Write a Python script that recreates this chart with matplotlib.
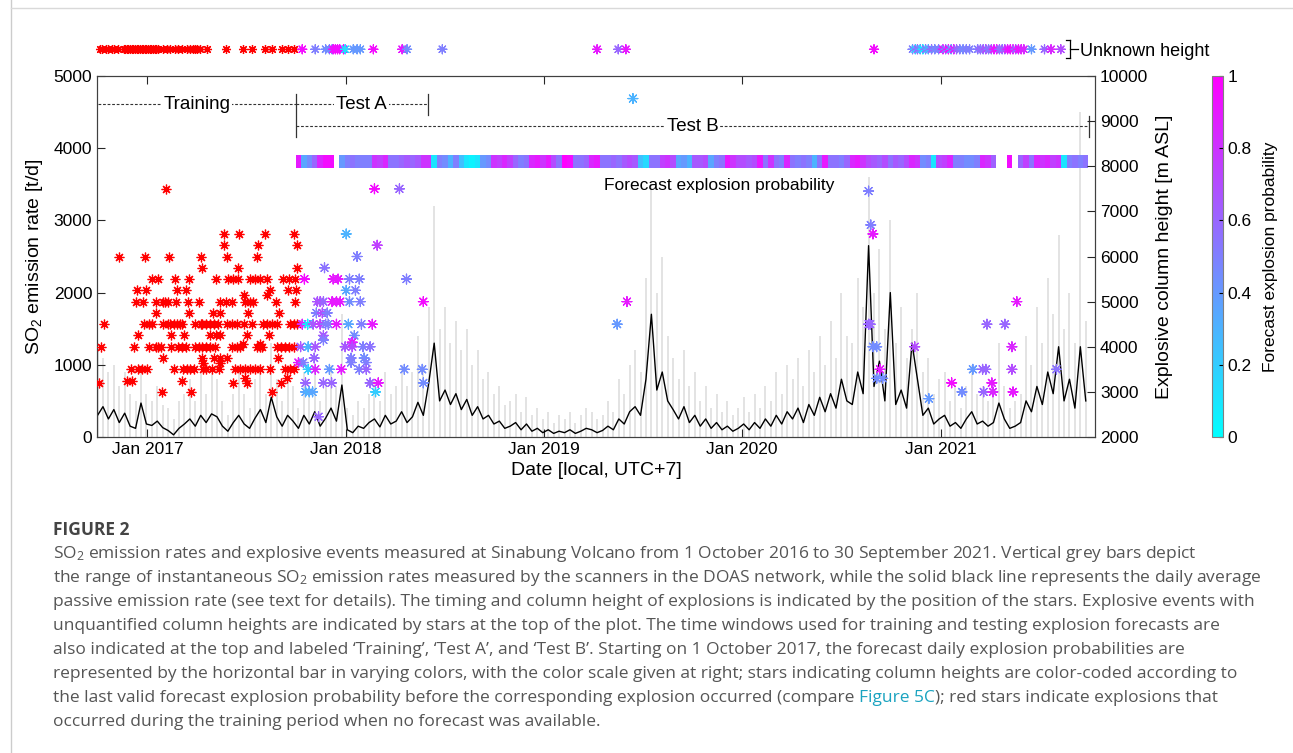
import numpy as np
import matplotlib
matplotlib.use('Agg')
import matplotlib.pyplot as plt
import matplotlib.dates as mdates
from matplotlib.lines import Line2D

plt.rcParams['font.family'] = ['Liberation Sans', 'DejaVu Sans']
plt.rcParams['mathtext.default'] = 'regular'

start = np.datetime64('2016-10-01')

# daily average passive SO2 emission (t/d), read every 10 days from 1 Oct 2016
so2_mean = [300, 420, 250, 380, 200, 330, 150, 120, 470, 180,
            160, 220, 130, 90, 30, 120, 180, 250, 150, 300,
            200, 320, 280, 150, 80, 200, 300, 180, 120, 260,
            380, 200, 550, 280, 150, 300, 220, 120, 300, 180,
            350, 150, 260, 400, 220, 720, 100, 60, 150, 120,
            200, 250, 140, 300, 180, 220, 350, 200, 280, 480,
            300, 750, 1300, 500, 650, 450, 600, 380, 520, 300,
            420, 250, 300, 180, 220, 120, 150, 200, 100, 180,
            80, 120, 60, 100, 50, 80, 60, 100, 50, 80,
            120, 100, 60, 90, 150, 100, 250, 180, 350, 420,
            300, 800, 1700, 650, 900, 500, 380, 250, 420, 200,
            300, 150, 250, 120, 200, 100, 150, 80, 120, 180,
            100, 200, 120, 250, 150, 300, 180, 350, 250, 400,
            200, 450, 300, 550, 350, 600, 400, 800, 500, 450,
            900, 600, 2650, 700, 1050, 500, 2000, 450, 650, 400,
            1300, 800, 300, 400, 180, 250, 300, 150, 200, 120,
            250, 350, 180, 220, 150, 200, 470, 250, 120, 150,
            200, 500, 350, 700, 450, 900, 600, 1250, 500, 800,
            400, 1250, 500]

# upper end of instantaneous SO2 emission rates (t/d), same 10-day steps
so2_max = [1250, 1100, 900, 1000, 700, 900, 600, 500, 1000, 600,
           500, 700, 450, 400, 250, 500, 600, 800, 500, 900,
           600, 900, 800, 500, 300, 600, 900, 600, 400, 800,
           1000, 600, 1300, 800, 500, 900, 700, 400, 900, 600,
           1000, 500, 800, 1000, 700, 1700, 400, 300, 500, 400,
           600, 800, 500, 900, 600, 700, 1000, 700, 900, 1400,
           1000, 1800, 3200, 1500, 1800, 1300, 1600, 1200, 1500, 1000,
           1200, 800, 900, 600, 700, 450, 500, 600, 350, 550,
           300, 400, 250, 350, 200, 300, 250, 350, 200, 300,
           400, 350, 250, 300, 500, 350, 800, 600, 1000, 1200,
           900, 2200, 3500, 2000, 2500, 1400, 1100, 800, 1200, 700,
           900, 500, 700, 400, 600, 350, 500, 300, 400, 550,
           350, 600, 400, 700, 500, 900, 600, 1000, 800, 1100,
           700, 1200, 900, 1400, 1000, 1600, 1100, 2000, 1400, 1300,
           2200, 1800, 3600, 2000, 2600, 1500, 3000, 1300, 1800, 1100,
           1500, 2000, 900, 1100, 600, 800, 900, 500, 700, 400,
           700, 1000, 600, 700, 500, 600, 1300, 700, 400, 500,
           600, 1400, 1000, 1800, 1300, 2200, 1700, 2800, 1500, 2000,
           1300, 4500, 1600]

# forecast explosion probability, 10-day steps from 1 Oct 2017 (nan = no forecast)
forecast_prob = [0.9, 0.35, 0.45, 0.6, 0.85, 0.95, 0.95, np.nan, 0.4, 0.5,
                 0.55, 0.5, 0.5, 0.5, 0.8, 0.75, 0.85, 0.55, 0.55, 0.6,
                 0.65, 0.6, 0.65, 0.8, 0.8, 0.1, 0.5, 0.45, 0.3, 0.5,
                 0.25, 0.1, 0.05, 0.1, 0.4, 0.45, 0.8, 0.75, 0.85, 0.75,
                 0.6, 0.5, 0.55, 0.85, 0.9, 0.8, 0.9, 0.7, 0.55, 1.0,
                 0.95, 0.55, 0.55, 0.6, 0.85, 0.9, 0.55, 0.55, 0.6, 0.55,
                 0.65, 0.7, 0.65, 0.25, 0.15, 0.55, 0.55, 0.75, 0.8, 0.7,
                 0.35, 0.4, 0.3, 0.65, 0.65, 0.7, 0.35, 0.5, 0.55, 0.9,
                 0.8, 0.7, 0.7, 0.65, 0.7, 0.9, 0.55, 0.8, 0.55, 0.5,
                 0.85, 0.55, 0.5, 0.55, 0.5, 0.3, 0.55, 0.9, 0.55, 0.55,
                 0.5, 0.6, 0.85, 0.9, 0.8, 0.7, 0.65, 0.6, 0.7, 0.55,
                 0.65, 0.6, 0.7, 0.85, 0.8, 0.45, 0.5, 0.1, 0.7, 0.75,
                 0.85, 0.5, 0.5, 0.45, 0.45, 0.5, 0.85, 0.8, 0.62, np.nan,
                 np.nan, 0.95, np.nan, 0.6, 0.75, 0.55, 0.85, 0.8, 0.85, 0.75,
                 0.8, 0.1, 0.5, 0.55, 0.5, 0.55]

# explosions during training (day since 1 Oct 2016, column height m ASL)
red_stars = [(126, 7500), (40, 6000), (87, 6000), (131, 6000), (191, 6000), (193, 5750),
             (101, 5500), (112, 5500), (142, 5500), (169, 5500),
             (72, 5250), (90, 5250), (147, 5250), (162, 5250),
             (70, 5000), (83, 5000), (107, 5000), (120, 5000), (124, 5000), (129, 5000),
             (144, 5000), (167, 5000), (186, 5000), (107, 4750), (169, 4750),
             (11, 4500), (85, 4500), (94, 4500), (101, 4500), (120, 4500), (129, 4500),
             (134, 4500), (140, 4500), (147, 4500), (152, 4500), (156, 4500), (180, 4500),
             (193, 4500), (75, 4250), (136, 4250), (160, 4250),
             (6, 4000), (68, 4000), (94, 4000), (107, 4000), (112, 4000), (116, 4000),
             (136, 4000), (149, 4000), (156, 4000), (162, 4000), (180, 4000), (186, 4000),
             (193, 4000), (120, 3750), (193, 3750),
             (61, 3500), (75, 3500), (81, 3500), (92, 3500), (140, 3500), (158, 3500),
             (164, 3500), (171, 3500), (177, 3500), (195, 3500),
             (55, 3250), (63, 3250), (156, 3250), (2, 3200), (118, 3000), (173, 3000),
             (232, 6500), (261, 6500), (309, 6500), (362, 6500),
             (232, 6250), (239, 6000), (296, 6250), (294, 6000), (368, 6250),
             (259, 5750), (368, 5750),
             (219, 5500), (241, 5500), (250, 5500), (259, 5500), (281, 5500), (290, 5500),
             (300, 5500), (313, 5500), (342, 5500), (353, 5500), (364, 5500),
             (318, 5250), (350, 5250), (366, 5250), (269, 5150), (313, 5150),
             (226, 5000), (237, 5000), (248, 5000), (272, 5000), (280, 5000), (287, 5000),
             (329, 5000), (364, 5000),
             (212, 4750), (226, 4750), (278, 4750), (335, 4750),
             (190, 4500), (199, 4500), (207, 4500), (214, 4500), (221, 4500), (239, 4500),
             (248, 4500), (256, 4500), (269, 4500), (285, 4500), (305, 4500), (313, 4500),
             (322, 4500), (331, 4500), (355, 4500), (362, 4500), (368, 4500),
             (208, 4250), (218, 4250), (226, 4250), (276, 4250), (315, 4250),
             (267, 4050), (300, 4050),
             (199, 4000), (208, 4000), (217, 4000), (248, 4000), (256, 4000), (263, 4000),
             (294, 4000), (299, 4000), (303, 4000), (331, 4000), (338, 4000), (346, 4000),
             (353, 4000), (361, 4000),
             (214, 3750), (226, 3750), (239, 3750), (333, 3750), (195, 3650), (226, 3650),
             (199, 3500), (210, 3500), (223, 3500), (254, 3500), (263, 3500), (272, 3500),
             (281, 3500), (290, 3500), (300, 3500), (318, 3500), (346, 3500), (355, 3500),
             (361, 3500), (272, 3300), (348, 3300), (250, 3200), (276, 3200), (337, 3200),
             (322, 3000)]

# explosions after 1 Oct 2017 (day, column height m ASL, last forecast probability)
forecast_stars = [(510, 7500, 0.95), (556, 7500, 0.6),
                  (458, 6500, 0.3), (515, 6250, 0.75), (478, 6000, 0.5), (418, 5750, 0.55),
                  (381, 5500, 0.95), (434, 5500, 0.9), (443, 5500, 0.9), (464, 5500, 0.5),
                  (482, 5500, 0.5), (569, 5500, 0.5), (458, 5250, 0.35), (475, 5250, 0.5),
                  (405, 5000, 0.65), (410, 5000, 0.7), (416, 5000, 0.6), (432, 5000, 0.9),
                  (440, 5000, 0.9), (447, 5000, 0.9), (464, 5000, 0.45), (484, 5000, 0.5),
                  (600, 5000, 0.95), (403, 4750, 0.5), (414, 4750, 0.7), (423, 4750, 0.5),
                  (377, 4500, 0.85), (387, 4500, 0.1), (397, 4500, 0.65), (410, 4500, 0.75),
                  (420, 4500, 0.5), (425, 4500, 0.5), (440, 4500, 0.9), (462, 4500, 0.35),
                  (486, 4500, 0.5), (506, 4500, 0.9), (473, 4250, 0.45), (416, 4250, 0.65),
                  (416, 4150, 0.5), (469, 4100, 0.9),
                  (374, 4000, 0.65), (388, 4000, 0.3), (401, 4000, 0.65), (456, 4000, 0.65),
                  (469, 4000, 0.7), (489, 4000, 0.5), (502, 4000, 0.55),
                  (399, 3750, 0.6), (467, 3750, 0.5), (491, 3750, 0.45),
                  (370, 3650, 0.9), (379, 3650, 0.5), (467, 3650, 0.5), (495, 3650, 0.5),
                  (388, 3500, 0.2), (401, 3500, 0.85), (427, 3500, 0.4), (449, 3500, 0.9),
                  (482, 3500, 0.5), (495, 3500, 0.6), (565, 3500, 0.45), (598, 3500, 0.45),
                  (383, 3200, 0.6), (416, 3200, 0.6), (431, 3200, 0.6), (502, 3200, 0.6),
                  (517, 3200, 0.9), (600, 3200, 0.45),
                  (383, 3000, 0.35), (390, 3000, 0.3), (396, 3000, 0.35), (512, 3000, 0.2),
                  (407, 2450, 0.6),
                  (986, 9500, 0.3), (957, 4500, 0.4), (975, 5000, 0.9),
                  (1420, 7450, 0.5), (1424, 6700, 0.5), (1428, 6500, 0.9), (1420, 4500, 0.6),
                  (1423, 4500, 0.6), (1428, 4000, 0.45), (1435, 4000, 0.45), (1441, 3500, 0.9),
                  (1435, 3300, 0.45), (1446, 3300, 0.45), (1505, 4000, 0.7), (1531, 2850, 0.4),
                  (1573, 3200, 0.95), (1592, 3000, 0.45), (1612, 3500, 0.4), (1630, 3500, 0.6),
                  (1636, 3500, 0.6), (1638, 4500, 0.6), (1632, 3000, 0.6), (1647, 3200, 0.9),
                  (1649, 3000, 0.85), (1671, 4500, 0.6), (1684, 4000, 0.85), (1684, 3500, 0.7),
                  (1686, 3000, 0.9), (1693, 5000, 0.9), (1766, 3500, 0.55)]

# explosions with unknown height: training (red) and with forecast probability
unknown_red_days = [4, 9, 15, 20, 26, 31, 37, 48, 51, 54, 57, 60, 63, 66, 69, 72, 75, 78,
                    81, 84, 87, 90, 93, 96, 99, 102, 105, 107, 112, 120, 127, 134, 142,
                    149, 156, 164, 171, 175, 179, 184, 188, 202, 236, 267, 285, 309, 322,
                    340, 350, 361]
unknown_stars = [(377, 0.95), (401, 0.5), (420, 0.45), (427, 0.45), (432, 0.45),
                 (434, 0.95), (438, 0.95), (442, 0.95), (446, 0.95), (453, 0.95),
                 (456, 0.15), (471, 0.4), (478, 0.4), (484, 0.4), (508, 0.95),
                 (561, 0.9), (570, 0.45), (635, 0.5), (920, 0.9), (959, 0.6), (973, 0.9),
                 (1430, 0.95), (1501, 0.5), (1506, 0.2), (1510, 0.6), (1515, 0.4),
                 (1520, 0.1), (1525, 0.55), (1530, 0.3), (1536, 0.6), (1542, 0.45),
                 (1549, 0.5), (1557, 0.9), (1562, 0.5), (1567, 0.95), (1572, 0.4),
                 (1577, 0.9), (1582, 0.6), (1588, 0.55), (1594, 0.45), (1600, 0.5),
                 (1606, 0.5), (1621, 0.5), (1626, 0.6), (1631, 0.55), (1636, 0.7),
                 (1641, 0.5), (1646, 0.6), (1651, 0.9), (1656, 0.95), (1661, 0.6),
                 (1666, 0.55), (1671, 0.65), (1676, 0.9), (1681, 0.95), (1686, 0.9),
                 (1691, 0.6), (1696, 0.95), (1701, 0.9), (1706, 0.85), (1720, 0.4),
                 (1744, 0.6), (1756, 0.85), (1774, 0.7)]

year_ticks = ['2017-01-01', '2018-01-01', '2019-01-01', '2020-01-01', '2021-01-01']
periods = {'Training': ('2016-10-01', '2017-10-01'),
           'Test A': ('2017-10-01', '2018-06-01'),
           'Test B': ('2017-10-01', '2021-10-01')}

caption_lines = [
    'SO$_2$ emission rates and explosive events measured at Sinabung Volcano from 1 October 2016 to 30 September 2021. Vertical grey bars depict',
    'the range of instantaneous SO$_2$ emission rates measured by the scanners in the DOAS network, while the solid black line represents the daily average',
    'passive emission rate (see text for details). The timing and column height of explosions is indicated by the position of the stars. Explosive events with',
    'unquantified column heights are indicated by stars at the top of the plot. The time windows used for training and testing explosion forecasts are',
    'also indicated at the top and labeled \u2018Training\u2019, \u2018Test A\u2019, and \u2018Test B\u2019. Starting on 1 October 2017, the forecast daily explosion probabilities are',
    'represented by the horizontal bar in varying colors, with the color scale given at right; stars indicating column heights are color-coded according to',
    None,
    'occurred during the training period when no forecast was available.']
link_parts = ['the last valid forecast explosion probability before the corresponding explosion occurred (compare ',
              'Figure 5C', '); red stars indicate explosions that']


def dnum(days):
    return mdates.date2num(start + np.asarray(days).astype('timedelta64[D]'))


def dstr(s):
    return mdates.date2num(np.datetime64(s))


W, H = 1293, 753
fig = plt.figure(figsize=(W / 100, H / 100), dpi=100)


def px(x, y):
    return x / W, 1 - y / H


cmap = plt.get_cmap('cool')
ax = fig.add_axes([97 / W, 1 - 437 / H, 998 / W, 361 / H])
ax2 = ax.twinx()

# grey instantaneous ranges and daily mean
t_mean = dnum(np.arange(len(so2_mean)) * 10)
ax.vlines(t_mean, 0, so2_max, color='0.6', lw=1.3, alpha=0.3, zorder=1)
ax.plot(t_mean, so2_mean, color='black', lw=1.0, zorder=3)

# forecast probability bar
edges = dnum(365 + np.arange(len(forecast_prob) + 1) * 10)
ax.pcolormesh(edges, [3726, 3906], np.ma.masked_invalid([forecast_prob]),
              cmap=cmap, vmin=0, vmax=1, zorder=2)
ax.text(dstr('2019-11-20'), 3490, 'Forecast explosion probability', ha='center', va='center',
        fontsize=12.5, zorder=4)

# training / test windows
dash = (0, (2.5, 1.6))
for name, yv, ticks in [('Training', 4612, []),
                        ('Test A', 4612, [(4750, 4460)]),
                        ('Test B', 4307, [(4450, 4150)])]:
    a, b = dstr(periods[name][0]), dstr(periods[name][1])
    ax.plot([a, b], [yv, yv], ls=dash, color='0.2', lw=0.8, zorder=4)
    ax.text((a + b) / 2, yv, name, ha='center', va='center', fontsize=13.5, zorder=5,
            bbox=dict(facecolor='white', edgecolor='none', pad=1.5))
    for y0, y1 in ticks:
        ax.plot([b, b], [y0, y1], color='0.2', lw=0.9, zorder=5)
ax.plot([dstr('2017-10-01')] * 2, [4750, 4150], color='0.2', lw=0.9, zorder=5)

# stars with known column height
rd, rh = zip(*red_stars)
ax2.plot(dnum(rd), rh, ls='none', marker=(8, 2, 0), ms=7, mew=0.9, color='red', zorder=5)
fd, fh, fp = zip(*forecast_stars)
ax2.scatter(dnum(fd), fh, c=fp, cmap=cmap, vmin=0, vmax=1, marker=(8, 2, 0), s=50,
            linewidths=0.9, zorder=6)

# stars with unknown column height above the axes
y_unk = 5370
ax.plot(dnum(unknown_red_days), [y_unk] * len(unknown_red_days), ls='none',
        marker=(8, 2, 0), ms=6.5, mew=0.9, color='red', clip_on=False, zorder=6)
ud, up = zip(*unknown_stars)
ax.scatter(dnum(ud), [y_unk] * len(ud), c=up, cmap=cmap, vmin=0, vmax=1, marker=(8, 2, 0),
           s=42, linewidths=0.9, clip_on=False, zorder=6)

bx, by0, by1 = 1070, 40, 58
for seg in [((bx - 4, bx), (by0, by0)), ((bx, bx), (by0, by1)), ((bx - 4, bx), (by1, by1)),
            ((bx, bx + 8), (49, 49))]:
    xs = [seg[0][0] / W, seg[0][1] / W]
    ys = [1 - seg[1][0] / H, 1 - seg[1][1] / H]
    fig.add_artist(Line2D(xs, ys, color='black', lw=0.9))
fig.text(*px(1080, 52), 'Unknown height', fontsize=13, va='center', ha='left')

# axes formatting
ax.set_xlim(dstr('2016-09-30'), dstr('2021-10-12'))
ax.set_ylim(0, 5000)
ax2.set_ylim(2000, 10000)
ax.set_yticks(range(0, 5001, 1000))
ax2.set_yticks(range(2000, 10001, 1000))
ax.set_xticks([dstr(s) for s in year_ticks])
ax.xaxis.set_major_formatter(mdates.DateFormatter('%b %Y'))
ax.tick_params(direction='in', length=6, width=0.8, top=True, labelsize=12.5, colors='0.15',
               labelcolor='black')
ax2.tick_params(direction='in', length=6, width=0.8, labelsize=12.5, colors='0.15',
                labelcolor='black')
for a in (ax, ax2):
    for s in a.spines.values():
        s.set_color('0.25')
        s.set_linewidth(0.8)
ax.set_ylabel('SO$_2$ emission rate [t/d]', fontsize=14, labelpad=6)
ax2.set_ylabel('Explosive column height [m ASL]', fontsize=14, labelpad=6)
ax.set_xlabel('Date [local, UTC+7]', fontsize=14, labelpad=4)

# colorbar
cax = fig.add_axes([1212 / W, 1 - 437 / H, 11 / W, 361 / H])
sm = plt.cm.ScalarMappable(cmap=cmap, norm=plt.Normalize(0, 1))
cb = fig.colorbar(sm, cax=cax, ticks=[0, 0.2, 0.4, 0.6, 0.8, 1])
cb.ax.set_yticklabels(['0', '0.2', '0.4', '0.6', '0.8', '1'])
cb.ax.tick_params(direction='in', length=3, labelsize=12.5)
cb.outline.set_edgecolor('0.5')
cb.set_label('Forecast explosion probability', fontsize=12.5, labelpad=8)

# frame lines of the page
fig.add_artist(Line2D([11 / W, 11 / W], [0, 1], color='0.8', lw=1))
fig.add_artist(Line2D([11 / W, 1], [1 - 8 / H, 1 - 8 / H], color='0.85', lw=1))

# caption
cap_font = ['Open Sans', 'DejaVu Sans']
renderer = fig.canvas.get_renderer()
probe = fig.text(0, 0, caption_lines[1], fontsize=11, family=cap_font)
fs = 11 * 1210 / probe.get_window_extent(renderer).width
probe.remove()

fig.text(*px(53, 530), 'FIGURE 2', fontsize=fs, family=cap_font, fontweight='bold',
         color='#444444', va='center')
for i, line in enumerate(caption_lines):
    y = 554 + 24 * i
    if line is not None:
        fig.text(*px(53, y), line, fontsize=fs, family=cap_font, color='#555555', va='center')
    else:
        xcur = 53
        for part, col in zip(link_parts, ['#555555', '#1aa3c0', '#555555']):
            t = fig.text(*px(xcur, y), part, fontsize=fs, family=cap_font, color=col, va='center')
            xcur += t.get_window_extent(renderer).width

fig.savefig('out.png', dpi=100)
